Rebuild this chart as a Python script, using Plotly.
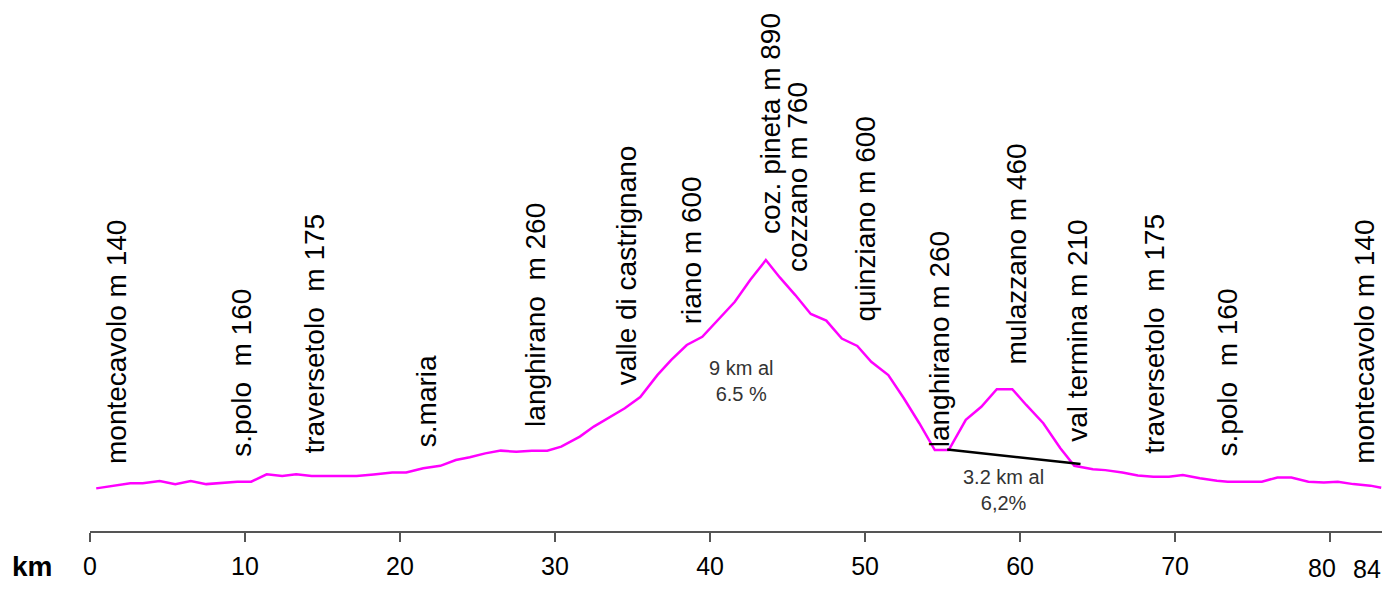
import plotly.graph_objects as go

# Elevation profile (km, metres)
km = [0.4, 1.7, 2.6, 3.4, 4.5, 5.5, 6.5, 7.5, 8.5, 9.5, 10.4, 11.4, 12.4, 13.3, 14.3,
      15.3, 16.2, 17.2, 18.3, 19.5, 20.4, 21.5, 22.6, 23.6, 24.5, 25.5, 26.5, 27.5,
      28.5, 29.5, 30.4, 31.6, 32.5, 33.6, 34.5, 35.5, 36.6, 37.5, 38.5, 39.5, 40.5,
      41.6, 42.6, 43.6, 44.5, 45.5, 46.5, 47.5, 48.5, 49.5, 50.4, 51.5, 52.5, 53.5,
      54.5, 55.4, 56.5, 57.5, 58.5, 59.5, 60.4, 61.5, 62.6, 63.5, 64.7, 65.5, 66.6,
      67.6, 68.6, 69.6, 70.5, 71.6, 72.7, 73.4, 74.6, 75.6, 76.6, 77.5, 78.6, 79.6,
      80.5, 81.5, 82.6, 83.3]
elev = [140, 151, 157, 157, 164, 154, 164, 154, 159, 162, 162, 186, 181, 186, 181,
        181, 181, 181, 186, 192, 192, 206, 214, 233, 242, 255, 264, 260, 264, 264,
        277, 310, 343, 376, 403, 440, 512, 562, 611, 638, 693, 753, 825, 890, 833,
        775, 713, 691, 632, 608, 556, 512, 436, 354, 266, 266, 365, 408, 466, 466,
        414, 354, 272, 214, 203, 200, 192, 182, 178, 178, 184, 173, 165, 162, 162,
        162, 176, 176, 162, 159, 162, 154, 149, 142]

# Average-gradient segment (mulazzano climb)
grade_km = [55.3, 63.9]
grade_elev = [268, 220]

# Place labels: text, km position, elevation where label starts
place_text = ["montecavolo m 140", "s.polo\u00a0\u00a0m 160", "traversetolo\u00a0\u00a0m 175",
              "s.maria", "langhirano\u00a0\u00a0m 260", "valle di castrignano", "riano m 600",
              "coz. pineta m 890", "cozzano m 760", "quinziano m 600", "langhirano m 260",
              "mulazzano m 460", "val termina m 210", "traversetolo\u00a0\u00a0m 175",
              "s.polo\u00a0\u00a0m 160"]
place_km = [1.75, 9.8, 14.5, 21.7, 28.7, 34.6, 38.8, 43.9, 45.6, 50.0, 54.8, 59.8,
            63.7, 68.7, 73.4]
place_elev = [214, 237, 247, 270, 335, 473, 674, 969, 844, 680, 270, 542, 286, 247,
              237]
# last label sits against the right edge of the chart
end_label_text = "montecavolo m 140"
end_label_elev = 214

# Gradient notes
note_text = ["9 km al<br>6.5 %", "3.2 km al<br>6,2%"]
note_km = [42.0, 58.9]
note_elev = [493, 135]

# Axis ticks
tick_vals = [0, 10, 20, 30, 40, 50, 60, 70, 80]
tick_text = ["0", "10", "20", "30", "40", "50", "60", "70", ""]
low_tick_text = ["80", "84"]
low_tick_km = [79.5, 82.4]
low_tick_y = [-0.0707, -0.073]

FONT = "Liberation Sans, Arial, sans-serif"

fig = go.Figure()
fig.add_trace(go.Scatter(x=km, y=elev, mode="lines",
                         line=dict(color="#FF00FF", width=2.5), hoverinfo="skip"))
fig.add_trace(go.Scatter(x=grade_km, y=grade_elev, mode="lines",
                         line=dict(color="#000000", width=2.5), hoverinfo="skip"))

annotations = []
for t, x, y in zip(place_text, place_km, place_elev):
    annotations.append(dict(x=x, y=y, xref="x", yref="y", text=t, showarrow=False,
                            textangle=-90, xanchor="center", yanchor="bottom",
                            font=dict(family=FONT, size=28, color="#000000")))
annotations.append(dict(x=1.0, y=end_label_elev, xref="paper", yref="y",
                        text=end_label_text, showarrow=False, textangle=-90, height=32,
                        xanchor="right", yanchor="bottom",
                        font=dict(family=FONT, size=28, color="#000000")))
for t, x, y in zip(note_text, note_km, note_elev):
    annotations.append(dict(x=x, y=y, xref="x", yref="y", text=t, showarrow=False,
                            xanchor="center", yanchor="middle",
                            font=dict(family=FONT, size=20, color="#333333")))
for t, x, y in zip(low_tick_text, low_tick_km, low_tick_y):
    annotations.append(dict(x=x, y=y, xref="x", yref="paper", text=t,
                            showarrow=False, xanchor="center", yanchor="middle",
                            font=dict(family=FONT, size=25, color="#000000")))
annotations.append(dict(x=-0.0449, y=-0.0688, xref="paper", yref="paper",
                        text="<b>km</b>", showarrow=False, xanchor="center",
                        yanchor="middle",
                        font=dict(family=FONT, size=28, color="#000000")))

fig.update_layout(
    width=1374, height=576,
    margin=dict(l=82, r=0, t=0, b=53),
    paper_bgcolor="white", plot_bgcolor="white",
    showlegend=False,
    annotations=annotations,
    xaxis=dict(range=[0, 83.35], tickmode="array", tickvals=tick_vals, ticktext=tick_text,
               showgrid=False, zeroline=False, showline=True, linecolor="#555555",
               linewidth=2, ticks="outside", ticklen=9, tickcolor="#555555", tickwidth=1.5,
               ticklabelstandoff=3,
               tickfont=dict(family=FONT, size=25, color="#000000")),
    yaxis=dict(range=[0, 1718], visible=False, showgrid=False, zeroline=False),
)

fig.write_html("out.html")
